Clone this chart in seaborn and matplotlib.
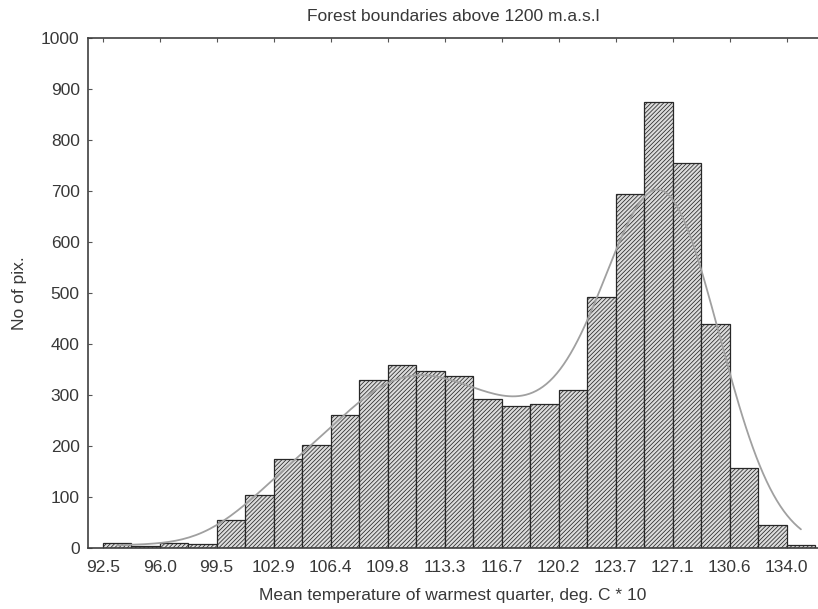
import numpy as np
import pandas as pd
import matplotlib
matplotlib.use('Agg')
import matplotlib.pyplot as plt
import seaborn as sns

# bin layout (left edge of first bin, bin width) and the bar heights
first_edge = 92.5
bin_width = (134.0 - 92.5) / 24
counts = [10, 4, 9, 7, 54, 103, 174, 201, 260, 330, 359, 348, 337, 292,
          279, 282, 310, 493, 694, 875, 755, 440, 157, 45, 5]
tick_labels = ['92.5', '96.0', '99.5', '102.9', '106.4', '109.8', '113.3',
               '116.7', '120.2', '123.7', '127.1', '130.6', '134.0']

edges = first_edge + bin_width * np.arange(len(counts) + 1)
centers = (edges[:-1] + edges[1:]) / 2
df = pd.DataFrame({'temp': centers, 'n': counts})

sns.set_theme(style='white')
plt.rcParams['font.family'] = ['Liberation Sans', 'DejaVu Sans']
plt.rcParams['hatch.linewidth'] = 0.55
plt.rcParams['hatch.color'] = '#505050'

fig = plt.figure(figsize=(8.18, 6.09), dpi=100)
ax = fig.add_axes([0.1076, 0.1002, 0.8924, 0.8374])

sns.histplot(data=df, x='temp', weights='n', bins=list(edges), kde=True,
             kde_kws={'bw_adjust': 0.43, 'cut': 0},
             line_kws={'color': '#a0a0a0', 'linewidth': 1.3},
             color='#dcdcdc', edgecolor='#282828', linewidth=0.9,
             hatch='////////', alpha=1, ax=ax)
for line in ax.lines:
    line.set_color('#a0a0a0')

ax.set_xlim(91.61, 135.9)
ax.set_ylim(0, 1000)
ax.set_xticks(edges[::2])
ax.set_xticklabels(tick_labels)
ax.set_yticks(range(0, 1001, 100))

txt = '#383838'
ax.tick_params(direction='in', length=3, width=0.8, top=True, bottom=True,
               left=True, right=False, labelsize=12.5, labelcolor=txt,
               color='#555555')
ax.tick_params(axis='x', pad=9)
ax.tick_params(axis='y', pad=6)
for side in ['left', 'bottom', 'top']:
    ax.spines[side].set_color('#404040')
    ax.spines[side].set_linewidth(1.2)
ax.spines['right'].set_visible(False)

ax.set_title('Forest boundaries above 1200 m.a.s.l', fontsize=12.5, color=txt, pad=12)
ax.set_xlabel('Mean temperature of warmest quarter, deg. C * 10', fontsize=12.5, color=txt, labelpad=9)
ax.set_ylabel('No of pix.', fontsize=12.5, color=txt, labelpad=10)

fig.savefig('out.png', dpi=100)
